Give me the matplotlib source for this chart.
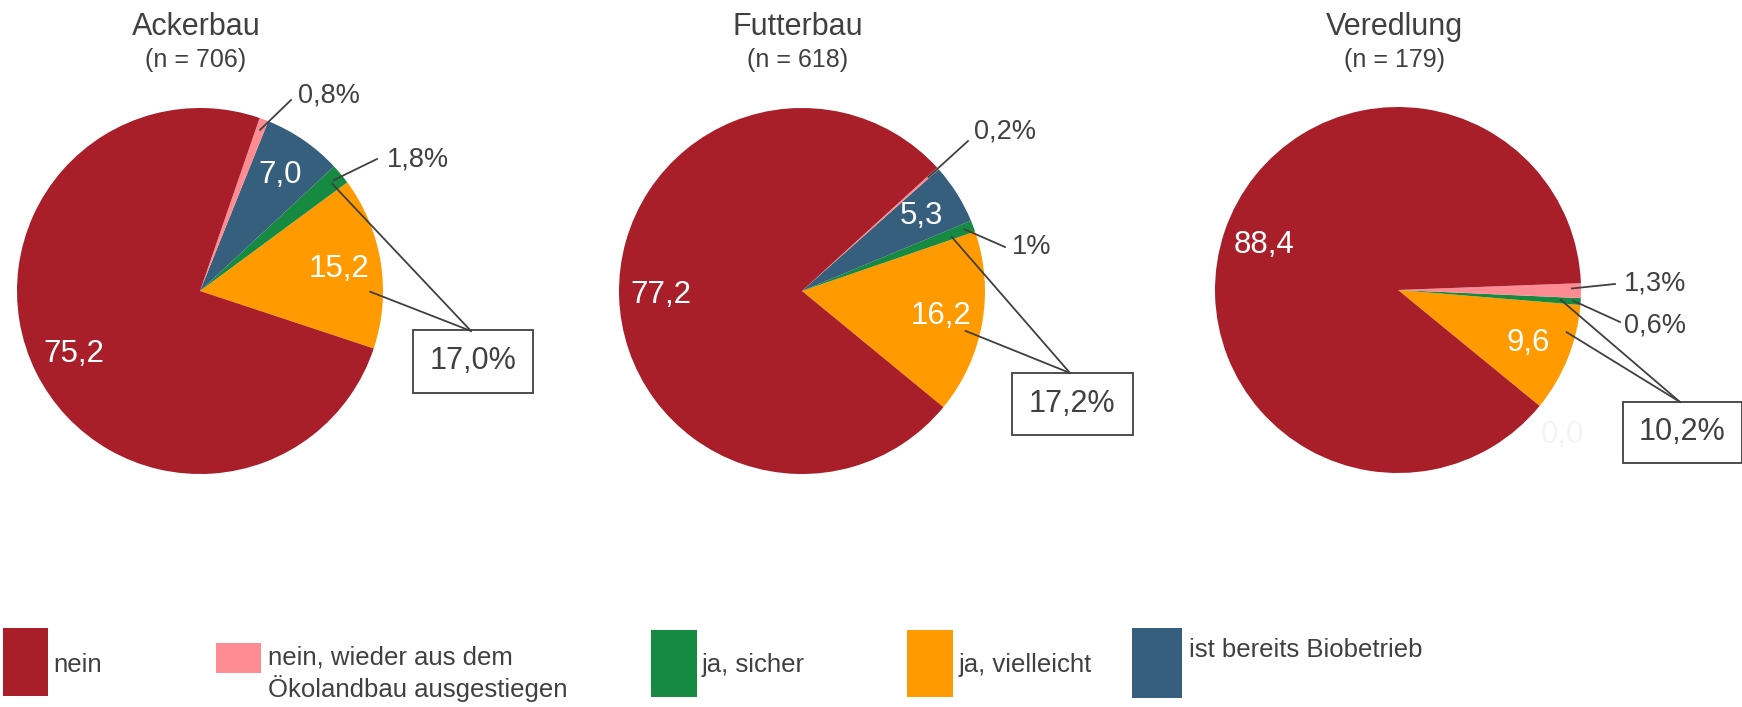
import matplotlib as mpl
mpl.use('Agg')
import matplotlib.pyplot as plt
from matplotlib import font_manager
from matplotlib.patches import Rectangle
import numpy as np

# daten (Anteile in %)
kategorien = ['nein', 'nein, wieder aus dem\nÖkolandbau ausgestiegen', 'ja, sicher',
              'ja, vielleicht', 'ist bereits Biobetrieb']
farben = ['#A81F29', '#FF8C93', '#178A41', '#FF9A00', '#365E7D']

titel = ['Ackerbau', 'Futterbau', 'Veredlung']
n_werte = [706, 618, 179]

ackerbau = [75.2, 0.8, 1.8, 15.2, 7.0]
futterbau = [77.2, 0.2, 1.0, 16.2, 5.3]
veredlung = [88.4, 1.3, 0.6, 9.6, 0.0]
werte = [ackerbau, futterbau, veredlung]

# reihenfolge der segmente gegen den uhrzeigersinn
reihenfolge = [3, 2, 4, 1, 0]

# layout in pixeln (y von oben)
W, H = 1742, 707
zentren = [(200, 291), (802, 291), (1398, 290)]
startwinkel = [-18.3, -39.4, -39.3]
radius = 183

# aussenbeschriftung: (kategorie, anteil im segment, radius-faktor, linienende, textpos)
aussen = [
    [(1, 0.5, 0.94, (291, 100), (298, 95)), (2, 0.5, 0.95, (377, 159), (387, 160))],
    [(1, 0.5, 0.93, (968, 141), (974, 132)), (2, 0.5, 0.95, (1005, 247), (1012, 247))],
    [(1, 0.65, 0.95, (1615, 284), (1624, 283)), (2, 0.55, 0.96, (1620, 322), (1624, 325))],
]
boxen = [
    dict(mitte=(473, 361), groesse=(120, 63), treff=(471, 331), quellen=[(2, 0.4, 0.93), (3, 0.33, 0.93)]),
    dict(mitte=(1072, 404), groesse=(121, 62), treff=(1070, 373), quellen=[(2, 0.25, 0.87), (3, 0.44, 0.92)]),
    dict(mitte=(1682, 432), groesse=(119, 61), treff=(1680, 402), quellen=[(2, 0.6, 0.89), (3, 0.73, 0.95)]),
]
null_pos = (1562, 435)

# legende: rechteck (x0, y0, x1, y1), text x, text baseline (letzte zeile)
leg_rect = [(3, 628, 48, 696), (216, 643, 261, 673), (651, 630, 697, 697),
            (907, 630, 953, 697), (1132, 628, 1182, 698)]
leg_text = [(53, 672), (268, 697), (702, 672), (959, 672), (1189, 657)]

namen = {f.name for f in font_manager.fontManager.ttflist}
schmal = 'Liberation Sans Narrow' if 'Liberation Sans Narrow' in namen else 'Liberation Sans'
normal = 'Liberation Sans'
grau = '#404040'


def Y(y):
    return H - y


def komma(v, fmt):
    return format(v, fmt).replace('.', ',')


fig = plt.figure(figsize=(W / 100, H / 100), dpi=100)
fig.patch.set_facecolor('white')
ax = fig.add_axes([0, 0, 1, 1])

for i in range(3):
    cx, cy = zentren[i]
    v = werte[i]
    wedges, _ = ax.pie([v[k] for k in reihenfolge], colors=[farben[k] for k in reihenfolge],
                       startangle=startwinkel[i], counterclock=True, center=(cx, Y(cy)),
                       radius=radius, wedgeprops=dict(linewidth=0))
    wkl = {}
    for k, w in zip(reihenfolge, wedges):
        wkl[k] = (w.theta1, w.theta2)

    def punkt(k, frac, rf):
        t1, t2 = wkl[k]
        a = np.radians(t1 + frac * (t2 - t1))
        return cx + rf * radius * np.cos(a), Y(cy) + rf * radius * np.sin(a)

    # titel
    ax.text(cx - 4, Y(35), titel[i], ha='center', va='baseline', fontsize=22,
            family=schmal, color=grau)
    ax.text(cx - 4, Y(67), '(n = %d)' % n_werte[i], ha='center', va='baseline', fontsize=18,
            family=schmal, color=grau)

    # innenbeschriftung
    for k in [0, 3, 4]:
        if v[k] > 0:
            x, y = punkt(k, 0.5, 0.77)
            ax.text(x, y, komma(v[k], '.1f'), ha='center', va='center', fontsize=22.5,
                    family=normal, color='white')
        else:
            ax.text(null_pos[0], Y(null_pos[1]), komma(v[k], '.1f'), ha='center', va='center',
                    fontsize=22.5, family=normal, color='#f4f4f4')

    # kleine segmente mit fuehrungslinie
    for k, frac, rf, ende, tpos in aussen[i]:
        x, y = punkt(k, frac, rf)
        ax.plot([x, ende[0]], [y, Y(ende[1])], color=grau, lw=1.3)
        ax.text(tpos[0], Y(tpos[1]), komma(v[k], 'g') + '%', ha='left', va='center',
                fontsize=19.5, family=schmal, color=grau)

    # box mit summe ja
    b = boxen[i]
    for k, frac, rf in b['quellen']:
        x, y = punkt(k, frac, rf)
        ax.plot([x, b['treff'][0]], [y, Y(b['treff'][1])], color=grau, lw=1.3)
    bw, bh = b['groesse']
    ax.add_patch(Rectangle((b['mitte'][0] - bw / 2, Y(b['mitte'][1]) - bh / 2), bw, bh,
                           facecolor='white', edgecolor=grau, lw=1.3))
    ax.text(b['mitte'][0], Y(b['mitte'][1]), komma(round(v[2] + v[3], 1), '.1f') + '%',
            ha='center', va='center', fontsize=22, family=schmal, color=grau)

# legende
for k in range(5):
    x0, y0, x1, y1 = leg_rect[k]
    ax.add_patch(Rectangle((x0, Y(y1)), x1 - x0, y1 - y0, facecolor=farben[k], lw=0))
    tx, ty = leg_text[k]
    ax.text(tx, Y(ty), kategorien[k], ha='left', va='baseline', fontsize=18.5,
            family=schmal, color=grau, linespacing=1.25)

ax.set_xlim(0, W)
ax.set_ylim(0, H)
ax.set_aspect('equal')
ax.axis('off')

plt.savefig('out.png', dpi=100, facecolor='white')
